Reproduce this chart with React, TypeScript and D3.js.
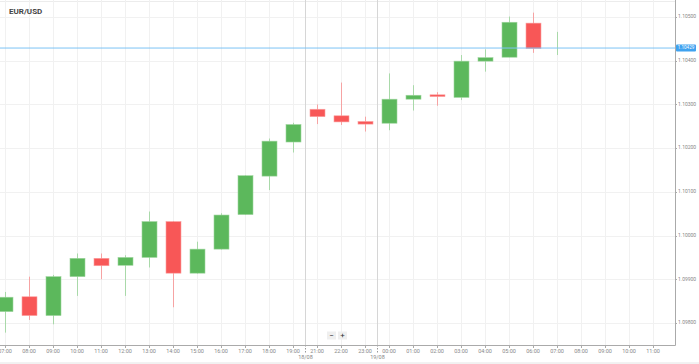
import React from "react";
import * as d3 from "d3";

const title = "EUR/USD";
const hours = [
  "07:00", "08:00", "09:00", "10:00", "11:00", "12:00", "13:00", "14:00", "15:00", "16:00",
  "17:00", "18:00", "19:00", "21:00", "22:00", "23:00", "00:00", "01:00", "02:00", "03:00",
  "04:00", "05:00", "06:00", "07:00 ", "08:00 ", "09:00 ", "10:00 ", "11:00 ",
];
const opens = [
  1.09826, 1.0986, 1.09817, 1.09906, 1.09948, 1.09932, 1.0995, 1.10032, 1.09914, 1.09969,
  1.10048, 1.10136, 1.10214, 1.10289, 1.10274, 1.10261, 1.10257, 1.10312, 1.10322, 1.10316,
  1.10399, 1.10408, 1.10486, 1.10429,
];
const highs = [
  1.09871, 1.09906, 1.0991, 1.09959, 1.09959, 1.09955, 1.10055, 1.10033, 1.09986, 1.10051,
  1.10138, 1.10222, 1.10258, 1.103, 1.1035, 1.10272, 1.10371, 1.10344, 1.10328, 1.10413,
  1.10426, 1.10501, 1.1051, 1.10466,
];
const lows = [
  1.09778, 1.09807, 1.09797, 1.09862, 1.099, 1.09862, 1.09927, 1.09836, 1.09913, 1.09968,
  1.10047, 1.10104, 1.1019, 1.10255, 1.10253, 1.10238, 1.10241, 1.10286, 1.10297, 1.1031,
  1.10375, 1.10408, 1.10418, 1.10413,
];
const closes = [
  1.09859, 1.09817, 1.09906, 1.09948, 1.09931, 1.0995, 1.10032, 1.09914, 1.09969, 1.10047,
  1.10137, 1.10216, 1.10254, 1.10272, 1.1026, 1.10255, 1.10312, 1.10321, 1.10318, 1.10399,
  1.10407, 1.10488, 1.10428, 1.10429,
];
const priceTicks = [1.098, 1.099, 1.1, 1.101, 1.102, 1.103, 1.104, 1.105];
const currentPrice = 1.10429;
const sessionStarts = ["21:00", "00:00"];
const sessionLabels = ["18/08", "19/08"];

const W = 699;
const H = 364;
const plotRight = 675;
const plotBottom = 345;

const GREEN = "#5cb85c";
const RED = "#f85757";
const GREEN_WICK = "#a9d9a9";
const RED_WICK = "#f6a3a3";
const FONT = "Roboto, 'Noto Sans', sans-serif";

export default function App() {
  const x = d3.scalePoint<string>().domain(hours).range([5, 653]);
  const y = d3.scaleLinear().domain([1.098, 1.105]).range([323, 17]);
  const step = x.step();
  const bodyW = 15;
  const candles = opens.map((o, i) => ({
    label: hours[i],
    o,
    h: highs[i],
    l: lows[i],
    c: closes[i],
  }));
  const fmt = d3.format(".5f");

  return (
    <svg
      width={W}
      height={H}
      style={{ position: "absolute", left: 0, top: 0, background: "#fff" }}
      fontFamily={FONT}
    >
      <rect x={0} y={0} width={W} height={H} fill="#fff" />
      <line x1={0} x2={plotRight} y1={1.5} y2={1.5} stroke="#ececec" />
      {hours.map((h) => (
        <line
          key={"vg" + h}
          x1={x(h)! + 0.5}
          x2={x(h)! + 0.5}
          y1={0}
          y2={plotBottom}
          stroke="#f1f1f1"
        />
      ))}
      {priceTicks.map((p) => (
        <line
          key={"hg" + p}
          x1={0}
          x2={plotRight}
          y1={Math.round(y(p)) + 0.5}
          y2={Math.round(y(p)) + 0.5}
          stroke="#f1f1f1"
        />
      ))}
      {sessionStarts.map((s, i) => {
        const sx = Math.round(x(s)! - step / 2) + 0.5;
        return (
          <g key={"sep" + s}>
            <line x1={sx} x2={sx} y1={0} y2={plotBottom} stroke="#d6d6d6" />
            <line
              x1={sx}
              x2={sx}
              y1={plotBottom}
              y2={plotBottom + 8}
              stroke="#999"
              strokeDasharray="1.5,1.5"
            />
            <text
              x={sx}
              y={358}
              fontSize={5.5}
              fill="#888"
              textAnchor="middle"
              dominantBaseline="middle"
            >
              {sessionLabels[i]}
            </text>
          </g>
        );
      })}
      {candles.map((d, i) => {
        const cx = Math.round(x(d.label)!) + 0.5;
        const up = d.c >= d.o;
        const top = y(Math.max(d.o, d.c));
        const bot = y(Math.min(d.o, d.c));
        const bh = bot - top;
        return (
          <g key={"c" + i}>
            <line
              x1={cx}
              x2={cx}
              y1={y(d.h)}
              y2={y(d.l)}
              stroke={up ? GREEN_WICK : RED_WICK}
              strokeWidth={1}
            />
            {bh > 0.5 && (
              <rect
                x={cx - bodyW / 2}
                y={top}
                width={bodyW}
                height={Math.max(1, bh)}
                fill={up ? GREEN : RED}
                stroke={up ? "#9fd59f" : "#fba0a0"}
                strokeWidth={0.6}
              />
            )}
          </g>
        );
      })}
      <line
        x1={0}
        x2={plotRight}
        y1={y(currentPrice)}
        y2={y(currentPrice)}
        stroke="#7cc4f5"
        strokeWidth={1}
      />
      <line x1={0} x2={plotRight + 0.5} y1={plotBottom + 0.5} y2={plotBottom + 0.5} stroke="#aaa" />
      <line x1={plotRight + 0.5} x2={plotRight + 0.5} y1={0} y2={plotBottom + 0.5} stroke="#aaa" />
      {hours.map((h) => (
        <g key={"xt" + h}>
          <line
            x1={x(h)! + 0.5}
            x2={x(h)! + 0.5}
            y1={plotBottom}
            y2={plotBottom + 3}
            stroke="#aaa"
          />
          <text
            x={x(h)!}
            y={351.5}
            fontSize={5.5}
            fill="#888"
            textAnchor="middle"
            dominantBaseline="middle"
          >
            {h.trim()}
          </text>
        </g>
      ))}
      {priceTicks.map((p) => (
        <g key={"yt" + p}>
          <line
            x1={plotRight}
            x2={plotRight + 2}
            y1={Math.round(y(p)) + 0.5}
            y2={Math.round(y(p)) + 0.5}
            stroke="#aaa"
          />
          <text x={678} y={y(p)} fontSize={5} fill="#888" dominantBaseline="middle">
            {fmt(p)}
          </text>
        </g>
      ))}
      <rect x={676} y={y(currentPrice) - 3.5} width={20} height={7} rx={1} fill="#3fa2ef" />
      <text
        x={686}
        y={y(currentPrice)}
        fontSize={4.6}
        fill="#fff"
        textAnchor="middle"
        dominantBaseline="middle"
      >
        {fmt(currentPrice)}
      </text>
      <text x={9} y={12} fontSize={8} fontWeight={700} fill="#444" dominantBaseline="middle">
        {title}
      </text>
      <rect x={327} y={331.5} width={9} height={8} fill="#efefef" />
      <text x={331.5} y={335.5} fontSize={8} fill="#333" textAnchor="middle" dominantBaseline="middle">
        −
      </text>
      <rect x={338} y={331.5} width={9} height={8} fill="#efefef" />
      <text x={342.5} y={335.5} fontSize={8} fill="#333" textAnchor="middle" dominantBaseline="middle">
        +
      </text>
      <line x1={0} x2={W} y1={363} y2={363} stroke="#e4e4e4" />
    </svg>
  );
}
